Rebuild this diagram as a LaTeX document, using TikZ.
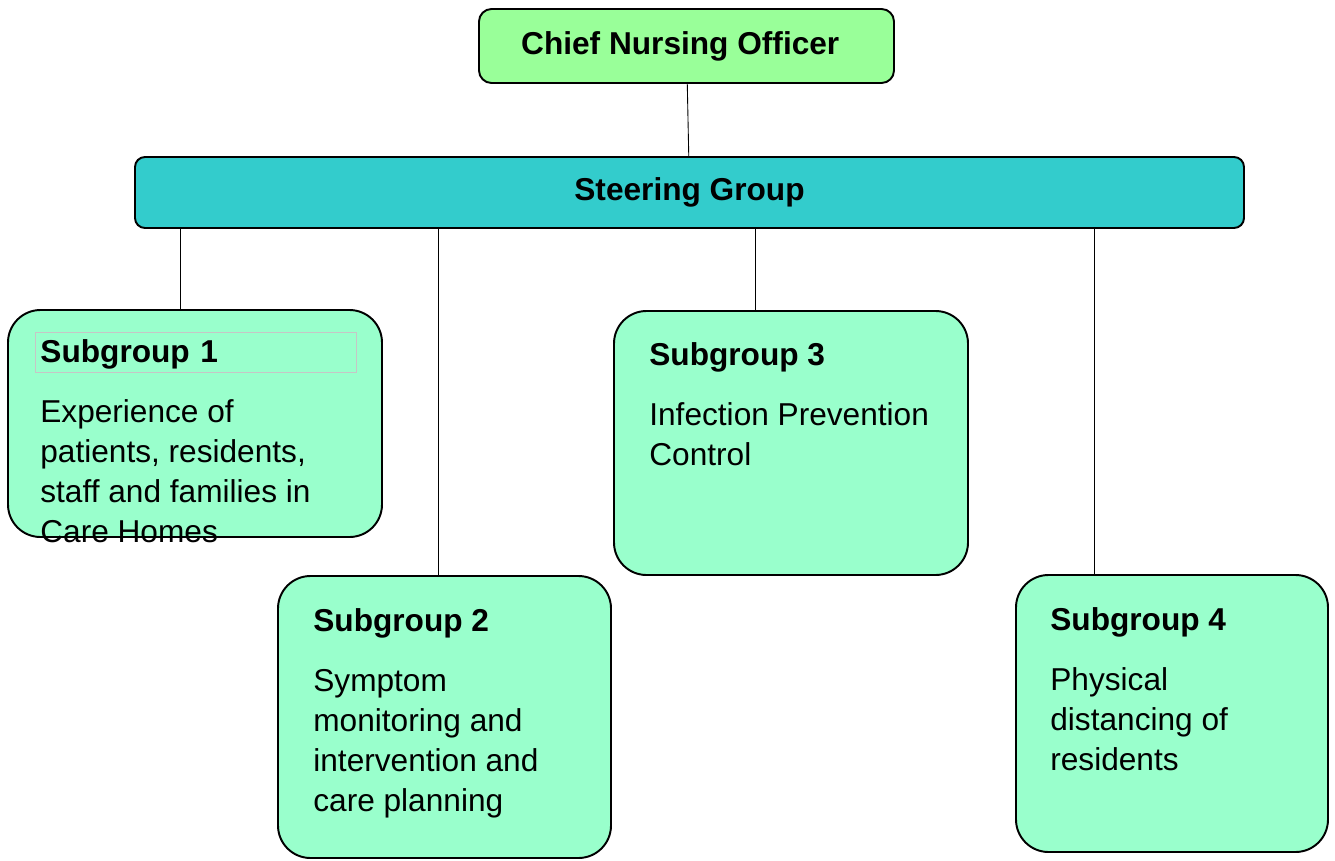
\documentclass[tikz,border=0pt]{standalone}
\usepackage{fontspec}
\setmainfont{Liberation Sans}
\definecolor{officegreen}{HTML}{99FF99}
\definecolor{steerteal}{HTML}{33CCCC}
\definecolor{subgreen}{HTML}{99FFCC}
\tikzset{
  topbox/.style={draw,line width=1.1pt,rounded corners=0.25cm,fill=officegreen,font=\fontsize{18}{22.7}\selectfont\bfseries},
  steerbox/.style={draw,line width=1.1pt,rounded corners=0.2cm,fill=steerteal,font=\fontsize{18}{22.7}\selectfont\bfseries},
  subbox/.style={draw,line width=1.1pt,rounded corners=0.65cm,fill=subgreen},
  subtitle/.style={anchor=base west,inner sep=0,font=\fontsize{18}{22.7}\selectfont\bfseries},
  % base of a multi-line node is its last line
  subtext/.style={anchor=base west,inner sep=0,align=left,font=\fontsize{18}{22.7}\selectfont},
  link/.style={draw=black,line width=0.5pt}
}
\begin{document}
\begin{tikzpicture}
\useasboundingbox (0,0) rectangle (26.7,-17.2);

\node[topbox,minimum width=8.3cm,minimum height=1.48cm](chief) at (13.73,-0.92) {Chief Nursing Officer\hspace*{0.25cm}};

\node[steerbox,minimum width=22.18cm,minimum height=1.42cm](steering) at (13.79,-3.85) {Steering Group};

\node[subbox,minimum width=7.48cm,minimum height=4.54cm](sub1) at (3.9,-8.47) {};
\node[subbox,minimum width=6.66cm,minimum height=5.64cm](sub2) at (8.89,-14.34) {};
\node[subbox,minimum width=7.08cm,minimum height=5.28cm](sub3) at (15.82,-8.86) {};
\node[subbox,minimum width=6.24cm,minimum height=5.54cm](sub4) at (23.44,-14.27) {};

\node[subtitle,draw=gray!45,line width=0.5pt,inner sep=0.1cm,text width=6.22cm,text height=0.5cm,text depth=0.1cm](sub1 title) at (0.7,-7.24) {Subgroup 1};
\node[subtext](sub1 text) at (0.8,-10.84) {Experience of\\patients, residents,\\staff and families in\\Care Homes};

\node[subtitle](sub2 title) at (6.26,-12.62) {Subgroup 2};
\node[subtext](sub2 text) at (6.26,-16.22) {Symptom\\monitoring and\\intervention and\\care planning};

\node[subtitle](sub3 title) at (12.98,-7.30) {Subgroup 3};
\node[subtext](sub3 text) at (12.98,-9.30) {Infection Prevention\\Control};

\node[subtitle](sub4 title) at (21.0,-12.60) {Subgroup 4};
\node[subtext](sub4 text) at (21.0,-15.40) {Physical\\distancing of\\residents};

\coordinate (link1) at (3.6,0);
\coordinate (link2) at (8.76,0);
\coordinate (link3) at (15.1,0);
\coordinate (link4) at (21.88,0);

\draw[link] (chief) to (steering);
\draw[link] (steering.south -| link1) to (sub1.north -| link1);
\draw[link] (steering.south -| link2) to (sub2.north -| link2);
\draw[link] (steering.south -| link3) to (sub3.north -| link3);
\draw[link] (steering.south -| link4) to (sub4.north -| link4);

\end{tikzpicture}
\end{document}
